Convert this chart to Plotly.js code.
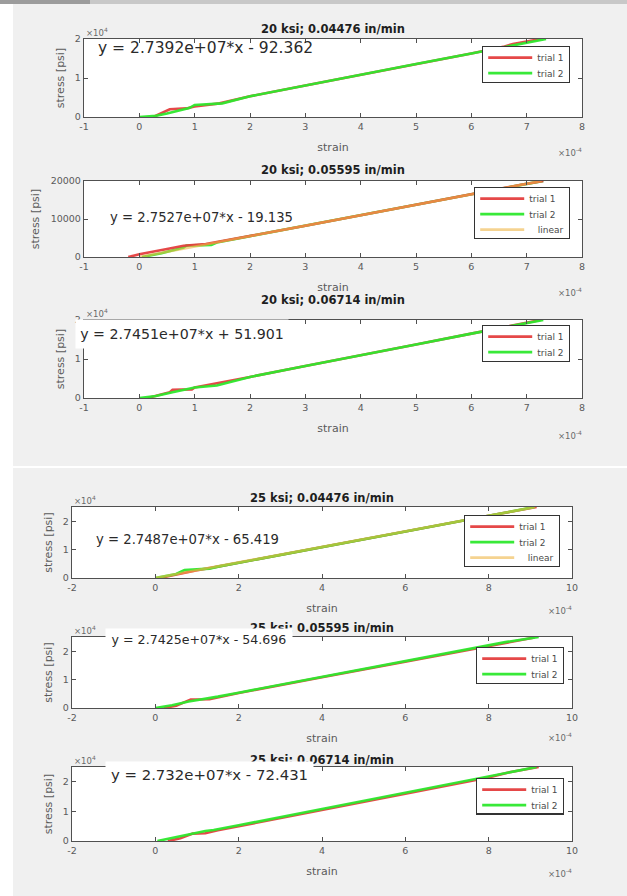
<!DOCTYPE html>
<html>
<head>
<meta charset="utf-8">
<script src="https://cdn.plot.ly/plotly-3.0.1.min.js"></script>
<style>
  html, body { margin: 0; padding: 0; background: #ffffff; }
  #chart { width: 627px; height: 896px; }
</style>
</head>
<body>
<div id="chart"></div>
<script>
// ---------------- DATA (strain in raw units, stress in psi) ----------------
const panelTitles = [
  "20 ksi; 0.04476 in/min",
  "20 ksi; 0.05595 in/min",
  "20 ksi; 0.06714 in/min",
  "25 ksi; 0.04476 in/min",
  "25 ksi; 0.05595 in/min",
  "25 ksi; 0.06714 in/min"
];
const fitLabels = [
  "y = 2.7392e+07*x - 92.362",
  "y = 2.7527e+07*x - 19.135",
  "y = 2.7451e+07*x + 51.901",
  "y = 2.7487e+07*x - 65.419",
  "y = 2.7425e+07*x - 54.696",
  "y = 2.732e+07*x - 72.431"
];
const seriesNames = ["trial 1", "trial 2", "\u00a0\u00a0\u00a0linear"];

// Panel 1
const p1_trial1_strain = [0.25e-4, 0.5e-4, 0.55e-4, 0.85e-4, 0.95e-4, 1.0e-4, 1.45e-4, 2.0e-4, 3.0e-4, 4.0e-4, 5.0e-4, 6.0e-4, 6.6e-4, 6.75e-4, 7.25e-4];
const p1_trial1_stress = [0, 1500, 2000, 2200, 2600, 2700, 3500, 5300, 8100, 10800, 13600, 16300, 18100, 18700, 20000];
const p1_trial2_strain = [0.0, 0.3e-4, 0.5e-4, 0.9e-4, 1.0e-4, 1.1e-4, 1.5e-4, 2.0e-4, 3.0e-4, 4.0e-4, 5.0e-4, 6.0e-4, 7.0e-4, 7.35e-4];
const p1_trial2_stress = [0, 300, 900, 2300, 3100, 3200, 3500, 5300, 8100, 10800, 13600, 16300, 19100, 20000];

// Panel 2
const p2_trial1_strain = [-0.2e-4, 0.0, 0.5e-4, 0.75e-4, 0.8e-4, 1.2e-4, 2.0e-4, 3.0e-4, 4.0e-4, 5.0e-4, 6.0e-4, 6.5e-4, 6.9e-4, 7.3e-4];
const p2_trial1_stress = [0, 700, 2100, 2900, 2950, 3400, 5500, 8200, 11000, 13800, 16500, 17900, 19000, 20000];
const p2_trial2_strain = [0.05e-4, 0.4e-4, 0.8e-4, 0.85e-4, 1.3e-4, 1.4e-4, 2.0e-4, 3.0e-4, 4.0e-4, 5.0e-4, 6.0e-4, 7.0e-4, 7.3e-4];
const p2_trial2_stress = [0, 1000, 2500, 3000, 3200, 3800, 5500, 8200, 11000, 13750, 16500, 19250, 20000];
const p2_linear_strain = [0.0, 7.27e-4];
const p2_linear_stress = [0, 20000];

// Panel 3
const p3_trial1_strain = [0.15e-4, 0.55e-4, 0.6e-4, 0.95e-4, 1.0e-4, 1.5e-4, 2.0e-4, 3.0e-4, 4.0e-4, 5.0e-4, 6.0e-4, 6.7e-4, 7.25e-4];
const p3_trial1_stress = [0, 1500, 2100, 2200, 2700, 4000, 5400, 8200, 10900, 13700, 16500, 18500, 20000];
const p3_trial2_strain = [0.0, 0.3e-4, 0.6e-4, 1.0e-4, 1.4e-4, 2.0e-4, 3.0e-4, 4.0e-4, 5.0e-4, 6.0e-4, 7.0e-4, 7.3e-4];
const p3_trial2_stress = [0, 500, 1500, 2700, 3200, 5400, 8200, 10900, 13700, 16500, 19200, 20000];

// Panel 4
const p4_trial1_strain = [0.1e-4, 0.5e-4, 1.0e-4, 1.5e-4, 2.0e-4, 4.0e-4, 6.0e-4, 8.0e-4, 8.6e-4, 9.15e-4];
const p4_trial1_stress = [0, 1300, 2700, 4000, 5400, 10900, 16400, 21900, 23500, 25000];
const p4_trial2_strain = [0.0, 0.5e-4, 0.7e-4, 1.0e-4, 1.3e-4, 1.5e-4, 2.0e-4, 4.0e-4, 6.0e-4, 8.0e-4, 9.1e-4];
const p4_trial2_stress = [0, 1400, 2800, 3100, 3300, 4000, 5400, 10900, 16400, 21900, 25000];
const p4_linear_strain = [0.0, 9.12e-4];
const p4_linear_stress = [0, 25000];

// Panel 5
const p5_trial1_strain = [0.2e-4, 0.5e-4, 0.8e-4, 0.85e-4, 1.3e-4, 1.5e-4, 2.0e-4, 4.0e-4, 6.0e-4, 8.0e-4, 9.1e-4];
const p5_trial1_stress = [0, 800, 2700, 3000, 3100, 3800, 5300, 10800, 16300, 21800, 24800];
const p5_trial2_strain = [0.0, 0.4e-4, 0.8e-4, 1.0e-4, 1.3e-4, 1.5e-4, 2.0e-4, 4.0e-4, 6.0e-4, 8.0e-4, 8.4e-4, 9.2e-4];
const p5_trial2_stress = [0, 1000, 2300, 2800, 3300, 4000, 5400, 10900, 16400, 21900, 23200, 25000];

// Panel 6
const p6_trial1_strain = [0.3e-4, 0.6e-4, 0.9e-4, 1.2e-4, 1.5e-4, 2.0e-4, 4.0e-4, 6.0e-4, 8.0e-4, 8.5e-4, 9.2e-4];
const p6_trial1_stress = [0, 900, 2500, 2600, 3600, 5000, 10500, 16000, 21500, 23200, 25000];
const p6_trial2_strain = [0.05e-4, 0.5e-4, 0.9e-4, 1.2e-4, 1.4e-4, 1.6e-4, 2.0e-4, 4.0e-4, 6.0e-4, 8.0e-4, 9.15e-4];
const p6_trial2_stress = [0, 1300, 2500, 3400, 3700, 4200, 5300, 10800, 16300, 21800, 25000];

// Tick values / labels
const xTicksA = [-1e-4, 0, 1e-4, 2e-4, 3e-4, 4e-4, 5e-4, 6e-4, 7e-4, 8e-4];
const xLabelsA = ["-1", "0", "1", "2", "3", "4", "5", "6", "7", "8"];
const xTicksB = [-2e-4, 0, 2e-4, 4e-4, 6e-4, 8e-4, 10e-4];
const xLabelsB = ["-2", "0", "2", "4", "6", "8", "10"];
const yTicks = [0, 10000, 20000];
const yLabelsE4 = ["0", "1", "2"];
const yLabelsFull = ["0", "10000", "20000"];

// ---------------- LAYOUT HELPERS ----------------
const W = 627, H = 896;
const px = v => v / W;
const py = v => 1 - v / H;

const RED = "rgba(228,62,62,0.95)";
const GREEN = "rgba(45,232,45,0.95)";
const LIN = "rgba(238,182,70,0.6)";
const AX = "#505050";
const TICKC = "#5a5a5a";
const FONT = "DejaVu Sans, Verdana, sans-serif";

// panel geometry (pixels)
const geo = [
  {l: 84, r: 582, t: 39, b: 117, xr: [-1e-4, 8e-4], yr: [0, 20000], xt: xTicksA, xl: xLabelsA, yl: yLabelsE4},
  {l: 84, r: 582, t: 181, b: 257, xr: [-1e-4, 8e-4], yr: [0, 20000], xt: xTicksA, xl: xLabelsA, yl: yLabelsFull},
  {l: 84, r: 582, t: 320, b: 398, xr: [-1e-4, 8e-4], yr: [0, 20000], xt: xTicksA, xl: xLabelsA, yl: yLabelsE4},
  {l: 72, r: 572, t: 507, b: 578, xr: [-2e-4, 10e-4], yr: [0, 25000], xt: xTicksB, xl: xLabelsB, yl: yLabelsE4},
  {l: 72, r: 572, t: 637, b: 708, xr: [-2e-4, 10e-4], yr: [0, 25000], xt: xTicksB, xl: xLabelsB, yl: yLabelsE4},
  {l: 72, r: 572, t: 767, b: 841, xr: [-2e-4, 10e-4], yr: [0, 25000], xt: xTicksB, xl: xLabelsB, yl: yLabelsE4}
];

const panelData = [
  [[p1_trial1_strain, p1_trial1_stress], [p1_trial2_strain, p1_trial2_stress], null],
  [[p2_trial1_strain, p2_trial1_stress], [p2_trial2_strain, p2_trial2_stress], [p2_linear_strain, p2_linear_stress]],
  [[p3_trial1_strain, p3_trial1_stress], [p3_trial2_strain, p3_trial2_stress], null],
  [[p4_trial1_strain, p4_trial1_stress], [p4_trial2_strain, p4_trial2_stress], [p4_linear_strain, p4_linear_stress]],
  [[p5_trial1_strain, p5_trial1_stress], [p5_trial2_strain, p5_trial2_stress], null],
  [[p6_trial1_strain, p6_trial1_stress], [p6_trial2_strain, p6_trial2_stress], null]
];
// drawing order of series per panel (legend order kept by legendrank)
const drawOrder = [[0, 1, 2], [1, 0, 2], [0, 1, 2], [0, 1, 2], [0, 1, 2], [0, 1, 2]];

// legend placement (pixels: right, top)
const legPos = [
  {r: 570, t: 46}, {r: 570, t: 187}, {r: 570, t: 325},
  {r: 560, t: 515}, {r: 564, t: 647}, {r: 564, t: 778}
];
// equation annotation placement
const eqPos = [
  {x: 96, yc: 48, size: 15.5, bg: false},
  {x: 108, yc: 217, size: 13.2, bg: false},
  {x: 75, size: 14.2, bg: true, w: 212, h: 28, top: 319},
  {x: 94, yc: 539, size: 13.2, bg: false},
  {x: 105, size: 12.6, bg: true, w: 186, h: 21, top: 628},
  {x: 105, size: 14.9, bg: true, w: 207, h: 26, top: 761}
];
const titleY = [29, 170, 300, 498, 628, 760];
const expY = [152, 292, 435, 610, 737, 873];
const e4Y = [32, null, 313, 500, 630, 760];

const colors = [RED, GREEN, LIN];
const data = [];
const layout = {
  width: W, height: H,
  margin: {l: 0, r: 0, t: 0, b: 0},
  paper_bgcolor: "#f0f0f0",
  plot_bgcolor: "#ffffff",
  showlegend: true,
  font: {family: FONT, color: "#3c3c3c"},
  annotations: [],
  shapes: [
    {type: "rect", xref: "paper", yref: "paper", x0: 0, x1: px(13), y0: 0, y1: 1, fillcolor: "#ffffff", line: {width: 0}, layer: "below"},
    {type: "rect", xref: "paper", yref: "paper", x0: 0, x1: 1, y0: py(4), y1: 1, fillcolor: "#c8c8c8", line: {width: 0}, layer: "below"},
    {type: "rect", xref: "paper", yref: "paper", x0: 0, x1: px(90), y0: py(4), y1: 1, fillcolor: "#9c9c9c", line: {width: 0}, layer: "below"},
    {type: "rect", xref: "paper", yref: "paper", x0: px(13), x1: 1, y0: py(468), y1: py(466), fillcolor: "#ffffff", line: {width: 0}, layer: "below"}
  ]
};

geo.forEach((g, i) => {
  const n = i + 1;
  const xa = n === 1 ? "xaxis" : "xaxis" + n;
  const ya = n === 1 ? "yaxis" : "yaxis" + n;
  const legName = n === 1 ? "legend" : "legend" + n;
  layout[xa] = {
    domain: [px(g.l), px(g.r)], range: g.xr, anchor: n === 1 ? "y" : "y" + n,
    tickmode: "array", tickvals: g.xt, ticktext: g.xl,
    ticks: "inside", ticklen: 4, tickcolor: AX, showline: true, linecolor: AX, linewidth: 1.2,
    mirror: "ticks", showgrid: false, zeroline: false,
    tickfont: {size: 9.5, color: TICKC, family: FONT},
    title: {text: "strain", font: {size: 11, color: TICKC, family: FONT}, standoff: 12}
  };
  layout[ya] = {
    domain: [py(g.b), py(g.t)], range: g.yr, anchor: n === 1 ? "x" : "x" + n,
    tickmode: "array", tickvals: yTicks, ticktext: g.yl,
    ticks: "inside", ticklen: 4, tickcolor: AX, showline: true, linecolor: AX, linewidth: 1.2,
    mirror: "ticks", showgrid: false, zeroline: false,
    tickfont: {size: 9.5, color: TICKC, family: FONT},
    title: {text: "stress [psi]", font: {size: 11, color: TICKC, family: FONT}, standoff: 8}
  };
  drawOrder[i].forEach(k => {
    const s = panelData[i][k];
    if (!s) return;
    data.push({
      type: "scatter", mode: "lines", x: s[0], y: s[1],
      name: seriesNames[k], legendrank: k + 1,
      xaxis: n === 1 ? "x" : "x" + n, yaxis: n === 1 ? "y" : "y" + n,
      line: {color: colors[k], width: 2.6},
      legend: legName, showlegend: true, hoverinfo: "skip"
    });
  });
  layout[legName] = {
    x: px(legPos[i].r), y: py(legPos[i].t), xanchor: "right", yanchor: "top",
    xref: "paper", yref: "paper",
    bgcolor: "#ffffff", bordercolor: "#333333", borderwidth: 1.2,
    font: {size: 9, color: "#4a4a4a", family: FONT},
    itemwidth: 44, tracegroupgap: 0, traceorder: "normal"
  };
  // subplot title
  layout.annotations.push({
    text: "<b>" + panelTitles[i] + "</b>", xref: "paper", yref: "paper",
    x: px((g.l + g.r) / 2), y: py(titleY[i]), xanchor: "center", yanchor: "middle",
    showarrow: false, font: {size: 11.5, color: "#1e1e1e", family: FONT}
  });
  // x10^4 multiplier
  if (e4Y[i] !== null) {
    layout.annotations.push({
      text: "\u00d710<sup>4</sup>", xref: "paper", yref: "paper",
      x: px(g.l), y: py(e4Y[i]), xanchor: "left", yanchor: "middle",
      showarrow: false, font: {size: 8.5, color: "#6a6a6a", family: FONT}
    });
  }
  // x10^-4 multiplier
  layout.annotations.push({
    text: "\u00d710<sup>-4</sup>", xref: "paper", yref: "paper",
    x: px(g.r + 2), y: py(expY[i]), xanchor: "right", yanchor: "middle",
    showarrow: false, font: {size: 8.5, color: "#6a6a6a", family: FONT}
  });
});

// equation annotations (drawn last so their white boxes cover titles)
eqPos.forEach((e, i) => {
  const a = {
    text: fitLabels[i], xref: "paper", yref: "paper", showarrow: false,
    font: {size: e.size, color: "#2a2a2a", family: FONT}
  };
  if (e.bg) {
    Object.assign(a, {x: px(e.x), y: py(e.top), xanchor: "left", yanchor: "top",
      width: e.w, height: e.h, bgcolor: "#ffffff", borderpad: 0, align: "center", valign: "middle"});
  } else {
    Object.assign(a, {x: px(e.x), y: py(e.yc), xanchor: "left", yanchor: "middle", align: "left"});
  }
  layout.annotations.push(a);
});

// tighten legend rows to MATLAB-like spacing
const LEG_STEP = 15.5, LEG_FIRST = 11, LEG_BOTTOM = 9;
function tightenLegends(gd) {
  const groups = gd.querySelectorAll("g.infolayer > g");
  groups.forEach(leg => {
    const cls = leg.getAttribute("class") || "";
    if (!/^legend\d*$/.test(cls)) return;
    const items = leg.querySelectorAll("g.traces");
    if (!items.length) return;
    const bg = leg.querySelector("rect.bg");
    const parse = el => {
      const m = /translate\(\s*([-\d.e]+)[\s,]*([-\d.e]*)\s*\)/.exec(el.getAttribute("transform") || "");
      return m ? [parseFloat(m[1]), parseFloat(m[2] || "0")] : null;
    };
    const t0 = parse(items[0]);
    if (!t0) return;
    const bgY = bg ? parseFloat(bg.getAttribute("y") || "0") : 0;
    items.forEach((it, j) => {
      const t = parse(it);
      if (!t) return;
      it.setAttribute("transform", "translate(" + t[0] + "," + (bgY + LEG_FIRST + LEG_STEP * j) + ")");
    });
    if (bg) bg.setAttribute("height", LEG_FIRST + LEG_STEP * (items.length - 1) + LEG_BOTTOM);
  });
}

Plotly.newPlot("chart", data, layout, {displayModeBar: false, staticPlot: true})
  .then(gd => { tightenLegends(gd); });
</script>
</body>
</html>
